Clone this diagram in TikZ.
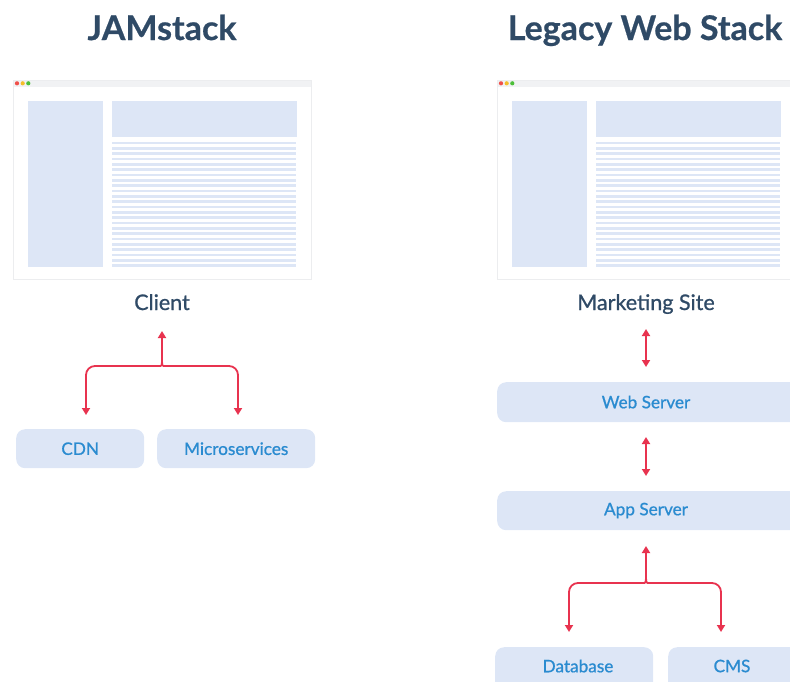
\documentclass[tikz,border=0pt]{standalone}
\usepackage{fontspec}
\setmainfont{Lato}
\newfontfamily\medfont{Lato}[FakeBold=0.9]
\newfontfamily\heavyfont{Lato Bold}[FakeBold=0.6]
\usetikzlibrary{arrows.meta}
\definecolor{titlecol}{HTML}{2F4A66}
\definecolor{panel}{HTML}{DDE6F6}
\definecolor{linkblue}{HTML}{2A8BD0}
\definecolor{arrowred}{HTML}{E8334F}
\definecolor{framecol}{HTML}{ECEDEF}
\definecolor{barfill}{HTML}{F1F2F4}
\definecolor{dotred}{HTML}{F0504A}
\definecolor{dotyellow}{HTML}{F4BE2A}
\definecolor{dotgreen}{HTML}{4CBF3A}

\tikzset{
  heading/.style={font=\heavyfont\fontsize{34}{40}\selectfont, text=titlecol, inner sep=0, anchor=base},
  caption/.style={font=\medfont\fontsize{21.5}{26}\selectfont, text=titlecol, inner sep=0, anchor=base},
  svclabel/.style={text=linkblue, font=\medfont\fontsize{17.2}{20}\selectfont},
  svcbox/.style={fill=panel, rounded corners=9pt, draw=none, svclabel, inner sep=0, anchor=north west},
  link/.style={draw=arrowred, line width=1.8pt, rounded corners=9pt},
  tip/.style={-{Triangle[width=8pt,length=7pt]}},
  tips/.style={{Triangle[width=8pt,length=7pt]}-{Triangle[width=8pt,length=7pt]}},
}

% browser window mock-up, left edge at #1
\newcommand\browserwin[1]{%
  \begin{scope}[xshift=#1]
    \draw[framecol, line width=1pt, fill=white] (13,80) rectangle (311,279);
    \fill[barfill] (13.5,80.5) rectangle (310.5,86.5);
    \fill[dotred] (17,83.3) circle (2.1);
    \fill[dotyellow] (22.7,83.3) circle (2.1);
    \fill[dotgreen] (28.3,83.3) circle (2.1);
    \fill[panel] (28,101) rectangle (103,267);
    \fill[panel] (112,101) rectangle (297,137);
    \foreach \i in {0,...,23}
      \fill[panel] (112,141.7+5.33*\i) rectangle (296,144.4+5.33*\i);
  \end{scope}}

\begin{document}
\begin{tikzpicture}[x=1pt,y=-1pt]
  \useasboundingbox (0,0) rectangle (790,681);
  \clip (0,0) rectangle (790,681);

  % ---- JAMstack column ----
  \node[heading] (jamtitle) at (162,40) {JAMstack};
  \browserwin{0}
  \node[caption] (client) at (162,310) {Client};

  \node[svcbox, minimum width=128pt, minimum height=39pt] (cdn) at (16,429) {CDN};
  \node[svcbox, minimum width=158pt, minimum height=39pt] (micro) at (157,429) {Microservices};

  \coordinate (jtop) at (162,331);
  \coordinate (jjoin) at (162,357);
  \coordinate (jl) at (86,415);
  \coordinate (jr) at (238,415);
  \draw[link, tip] (jjoin) -- (jtop);
  \draw[link, tip] (jjoin) .. controls (162,366) .. (150,366) -- (86,366) -- (jl);
  \draw[link, tip] (jjoin) .. controls (162,366) .. (174,366) -- (238,366) -- (jr);

  % ---- Legacy column ----
  \node[heading] (legtitle) at (645,40) {Legacy Web Stack};
  \browserwin{484}
  \node[caption] (market) at (646,310) {Marketing Site};

  \node[svcbox, minimum width=310pt, minimum height=40pt] (web) at (497,382) {};
  \node[svclabel] (webtxt) at (646,402) {Web Server};
  \node[svcbox, minimum width=310pt, minimum height=39pt] (app) at (497,491) {};
  \node[svclabel] (apptxt) at (646,510.5) {App Server};

  \node[svcbox, minimum width=158pt, minimum height=50pt] (db) at (495,647) {};
  \node[svclabel] (dbtxt) at (578,666) {Database};
  \node[svcbox, minimum width=150pt, minimum height=50pt] (cms) at (668,647) {};
  \node[svclabel] (cmstxt) at (732,666) {CMS};

  \coordinate (a1) at (646,329);
  \coordinate (a2) at (646,367);
  \draw[link, tips] (a1) -- (a2);
  \coordinate (b1) at (646,437);
  \coordinate (b2) at (646,476);
  \draw[link, tips] (b1) -- (b2);

  \coordinate (ltop) at (646,546);
  \coordinate (ljoin) at (646,573);
  \coordinate (ll) at (569,632);
  \coordinate (lr) at (721,632);
  \draw[link, tip] (ljoin) -- (ltop);
  \draw[link, tip] (ljoin) .. controls (646,583) .. (634,583) -- (569,583) -- (ll);
  \draw[link, tip] (ljoin) .. controls (646,583) .. (658,583) -- (721,583) -- (lr);
\end{tikzpicture}
\end{document}
